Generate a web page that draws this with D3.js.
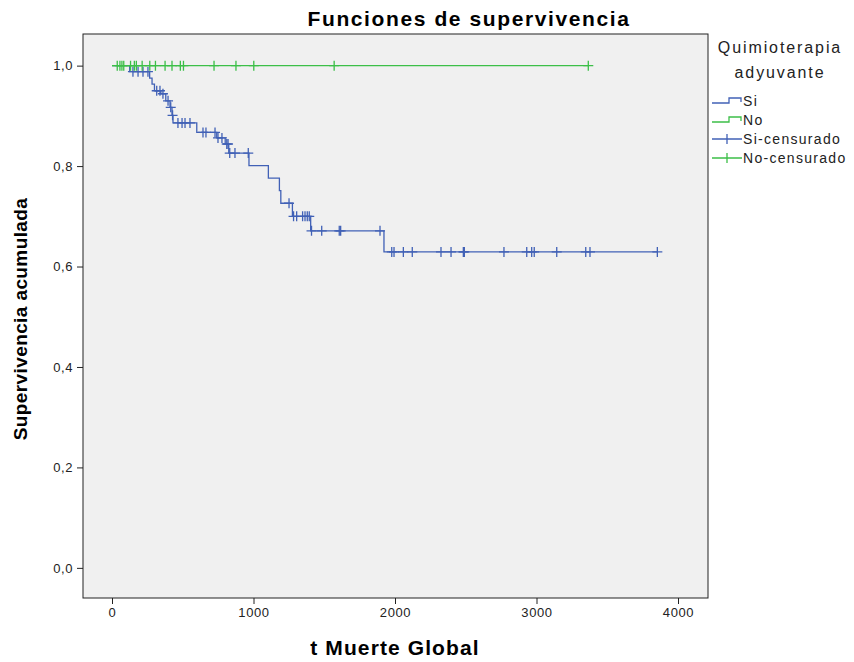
<!DOCTYPE html>
<html><head><meta charset="utf-8">
<script src="https://cdn.jsdelivr.net/npm/d3@7"></script>
<style>
body{margin:0;background:#fff;}
text{font-family:"Liberation Sans",Arial,sans-serif;}
</style></head>
<body><svg id="c" width="854" height="662"></svg>
<script>
// ---- data ----
const xTicks = [0, 1000, 2000, 3000, 4000];
const yTicks = [0, 0.2, 0.4, 0.6, 0.8, 1.0];
const siEventTimes = [125, 266, 283, 300, 345, 380, 410, 424, 431, 599, 740, 800, 825, 968, 1105, 1183, 1193, 1275, 1404, 1922];
const siSurvAfter  = [0.988, 0.975, 0.963, 0.950, 0.944, 0.930, 0.917, 0.901, 0.886, 0.867, 0.856, 0.844, 0.826, 0.801, 0.776, 0.751, 0.726, 0.700, 0.671, 0.629];
const siCensorTimes = [148, 184, 219, 254, 316, 339, 360, 396, 415, 428, 466, 495, 516, 551, 643, 664, 728, 749, 777, 811, 820, 832, 869, 963, 1251, 1283, 1305, 1347, 1364, 1380, 1394, 1410, 1482, 1606, 1616, 1894, 1977, 1993, 2059, 2122, 2325, 2396, 2483, 2490, 2770, 2931, 2966, 2984, 3143, 3348, 3378, 3854];
const noEventTimes = [];
const noSurvAfter = [];
const noCensorTimes = [37, 56, 70, 83, 131, 158, 172, 213, 267, 307, 375, 424, 483, 505, 721, 876, 1002, 1570, 3366];
const legendLabels = ["Si", "No", "Si-censurado", "No-censurado"];

const blue = "#4161b6", green = "#3cbf48";
const svg = d3.select("#c");
const L = 83, R = 708, T = 34, B = 598;
const x = d3.scaleLinear().domain([-205, 4212]).range([L, R]);
const y = d3.scaleLinear().domain([-0.06, 1.063]).range([B, T]);

svg.append("rect").attr("x", L).attr("y", T).attr("width", R - L).attr("height", B - T)
  .attr("fill", "#f0f0f0").attr("stroke", "#222").attr("stroke-width", 1);

// axes
const xa = svg.append("g").attr("transform", `translate(0,${B})`)
  .call(d3.axisBottom(x).tickValues(xTicks).tickSize(6).tickPadding(4).tickFormat(d3.format("d")));
const ya = svg.append("g").attr("transform", `translate(${L},0)`)
  .call(d3.axisLeft(y).tickValues(yTicks).tickSize(6).tickPadding(4).tickFormat(d => d.toFixed(1).replace(".", ",")));
[xa, ya].forEach(g => {
  g.select(".domain").remove();
  g.selectAll("line").attr("stroke", "#222");
  g.selectAll("text").attr("font-size", 13).attr("fill", "#222").style("letter-spacing", "0.6px")
    .style("font-family", '"Liberation Sans",Arial,sans-serif');
});

function survAt(t, times, surv) {
  let s = 1;
  for (let i = 0; i < times.length; i++) if (times[i] <= t) s = surv[i];
  return s;
}
function stepPath(times, surv, tEnd) {
  const pts = [[0, 1]];
  let s = 1;
  times.forEach((t, i) => { pts.push([t, s]); s = surv[i]; pts.push([t, s]); });
  pts.push([tEnd, s]);
  return d3.line().x(d => x(d[0])).y(d => y(d[1]))(pts);
}
function drawSeries(times, surv, cens, color) {
  const tEnd = Math.max(d3.max(cens), times.length ? d3.max(times) : 0);
  svg.append("path").attr("d", stepPath(times, surv, tEnd)).attr("fill", "none")
    .attr("stroke", color).attr("stroke-width", 1.3);
  const g = svg.append("g").attr("stroke", color).attr("stroke-width", 1.3);
  cens.forEach(t => {
    const cx = x(t), cy = y(survAt(t, times, surv));
    g.append("path").attr("d", `M${cx - 5},${cy}H${cx + 5}M${cx},${cy - 5}V${cy + 5}`);
  });
}
drawSeries(siEventTimes, siSurvAfter, siCensorTimes, blue);
drawSeries(noEventTimes, noSurvAfter, noCensorTimes, green);

// titles
svg.append("text").attr("x", 469).attr("y", 26).attr("text-anchor", "middle")
  .attr("font-size", 21).attr("font-weight", "bold").style("letter-spacing", "1.6px")
  .text("Funciones de supervivencia");
svg.append("text").attr("x", 395).attr("y", 655).attr("text-anchor", "middle")
  .attr("font-size", 21).attr("font-weight", "bold").style("letter-spacing", "1.1px")
  .text("t Muerte Global");
svg.append("text").attr("transform", "translate(27,319) rotate(-90)").attr("text-anchor", "middle")
  .attr("font-size", 19).attr("font-weight", "bold").style("letter-spacing", "0.4px")
  .text("Supervivencia acumulada");

// legend
const lg = svg.append("g");
lg.append("text").attr("x", 780).attr("y", 53).attr("text-anchor", "middle").attr("font-size", 16)
  .style("letter-spacing", "1.9px").attr("fill", "#222").text("Quimioterapia");
lg.append("text").attr("x", 780).attr("y", 78).attr("text-anchor", "middle").attr("font-size", 16)
  .style("letter-spacing", "1.9px").attr("fill", "#222").text("adyuvante");
const ly = [101, 120, 139, 158];
const lc = [blue, green, blue, green];
legendLabels.forEach((lab, i) => {
  const yy = ly[i];
  if (i < 2) {
    lg.append("path").attr("d", `M712,${yy + 2}H729V${yy - 3}H741V${yy + 1}`)
      .attr("fill", "none").attr("stroke", lc[i]).attr("stroke-width", 1.3);
  } else {
    lg.append("path").attr("d", `M712,${yy}H742M727,${yy - 5}V${yy + 5}`)
      .attr("fill", "none").attr("stroke", lc[i]).attr("stroke-width", 1.3);
  }
  lg.append("text").attr("x", 743).attr("y", yy + 5).attr("font-size", 14)
    .style("letter-spacing", "1.3px").attr("fill", "#222").text(lab);
});
</script></body></html>
